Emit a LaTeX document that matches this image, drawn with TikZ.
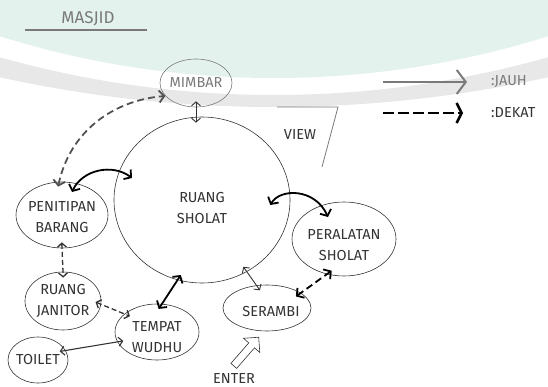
\documentclass[tikz,border=0pt]{standalone}
\usepackage{fontspec}
\setmainfont{Fira Sans}
\usetikzlibrary{shapes.geometric, shapes.arrows, arrows.meta, calc}
\definecolor{ink}{HTML}{333333}
\definecolor{pencil}{HTML}{7A7A7A}
\definecolor{mint}{HTML}{E3F2EC}
\definecolor{band}{HTML}{E8E8E8}
\tikzset{
    room/.style = {
        ellipse, draw=ink,
        line width=0.6pt,
        inner sep=0pt
    },
    roomtext/.style = {
        align=center, text=ink,
        font=\fontsize{14.5}{21.5}\selectfont,
        inner sep=0pt
    },
    far/.style = {
        <->, >={Straight Barb[length=4pt, width=9pt]},
        line width=0.9pt, draw=ink
    },
    farthick/.style = {
        <->, >={Straight Barb[length=5pt, width=12pt]},
        line width=1.8pt, draw=black
    },
    near/.style = {
        farthick, dash pattern=on 7pt off 4pt
    },
    nearthin/.style = {
        far, line width=1.3pt, dash pattern=on 5pt off 3pt
    },
    poke/.style = {
        shorten <=-6pt, shorten >=-6pt
    }
}

\begin{document}
\begin{tikzpicture}[x=1pt, y=-1pt]

\useasboundingbox (0,0) rectangle (548,387);

% background
\begin{scope}
\clip (0,0) rectangle (548,387);
\fill[mint] (274,-837) circle[radius=915pt];
\fill[band, even odd rule] (274,-1159) circle[radius=1266pt] (274,-912) circle[radius=1007pt];
\end{scope}

% title
\node[roomtext, text=pencil, font=\fontsize{17}{20}\selectfont] (masjid) at (88,19) {MASJID};
\draw[pencil, line width=1.5pt] (25,30) -- (147,30);

% rooms
\node[room, draw=pencil, minimum width=72pt, minimum height=48pt, label={[roomtext, text=pencil]center:MIMBAR}] (mimbar) at (196,83) {};
\node[room, minimum width=176pt, minimum height=166pt, label={[roomtext, yshift=-8pt]center:RUANG\\SHOLAT}] (sholat) at (202,200) {};
\node[room, minimum width=92pt, minimum height=66pt, label={[roomtext, yshift=-2pt]center:PENITIPAN\\BARANG}] (penitipan) at (62,215) {};
\node[room, minimum width=76pt, minimum height=58pt, label={[roomtext]center:RUANG\\JANITOR}] (janitor) at (63,301) {};
\node[room, minimum width=84pt, minimum height=56pt, label={[roomtext, yshift=-5pt]center:TEMPAT\\WUDHU}] (wudhu) at (157,332) {};
\node[room, minimum width=60pt, minimum height=46pt, label={[roomtext]center:TOILET}] (toilet) at (38,360) {};
\node[room, minimum width=88pt, minimum height=46pt, label={[roomtext, xshift=4pt, yshift=-4pt]center:SERAMBI}] (serambi) at (267,308) {};
\node[room, minimum width=104pt, minimum height=74pt, label={[roomtext, yshift=-6pt]center:PERALATAN\\SHOLAT}] (peralatan) at (344,239) {};

% view and entrance
\node[roomtext] (view) at (300,135) {VIEW};
\draw[pencil, line width=0.8pt] (277,107) -- (338,107) -- (322,167);
\node[single arrow, draw=ink, line width=0.6pt, inner sep=3.5pt, minimum height=38pt,
      single arrow head extend=7pt, rotate=49] (enterarrow) at (245,353) {};
\node[roomtext] (enter) at (234,379) {ENTER};

% connections
\draw[far, poke] (mimbar.south) -- (mimbar.south |- sholat.north);
\draw[near, draw=ink!85, shorten <=-5pt] (penitipan.95) .. controls (70,130) and (115,100) .. (mimbar.203);
\draw[farthick] ($(penitipan.center)+(10,-23)$) .. controls (82,170) and (112,163) .. ($(sholat.center)+(-70,-22)$);
\draw[nearthin, poke] (penitipan.south) -- (janitor.north);
\draw[nearthin, poke] (janitor.-5) -- (wudhu.151);
\draw[far, line width=1.1pt, poke] (toilet.19) -- (wudhu.194);
\draw[farthick, poke] (wudhu.80) -- (sholat.253);
\draw[far, poke] (sholat.-58) -- (serambi.115);
\draw[farthick] ($(sholat.east)+(-20,5)$) .. controls (280,188) and (315,188) .. ($(peralatan.center)+(-16,-22)$);
\draw[near, poke] (serambi.24) -- (peralatan.244);

% legend
\coordinate (jauh start) at (383,82);
\coordinate (jauh end) at (467,82);
\draw[-{Straight Barb[length=9pt, width=24pt]}, pencil, line width=2pt] (jauh start) -- (jauh end);
\node[roomtext, text=pencil, anchor=west] (jauh) at (491,82) {:JAUH};
\coordinate (dekat start) at (383,113);
\coordinate (dekat end) at (463,113);
\draw[-{Straight Barb[length=5pt, width=20pt]}, black, line width=2.5pt, dash pattern=on 11pt off 4pt] (dekat start) -- (dekat end);
\node[roomtext, anchor=west] (dekat) at (491,113) {:DEKAT};

\end{tikzpicture}
\end{document}
